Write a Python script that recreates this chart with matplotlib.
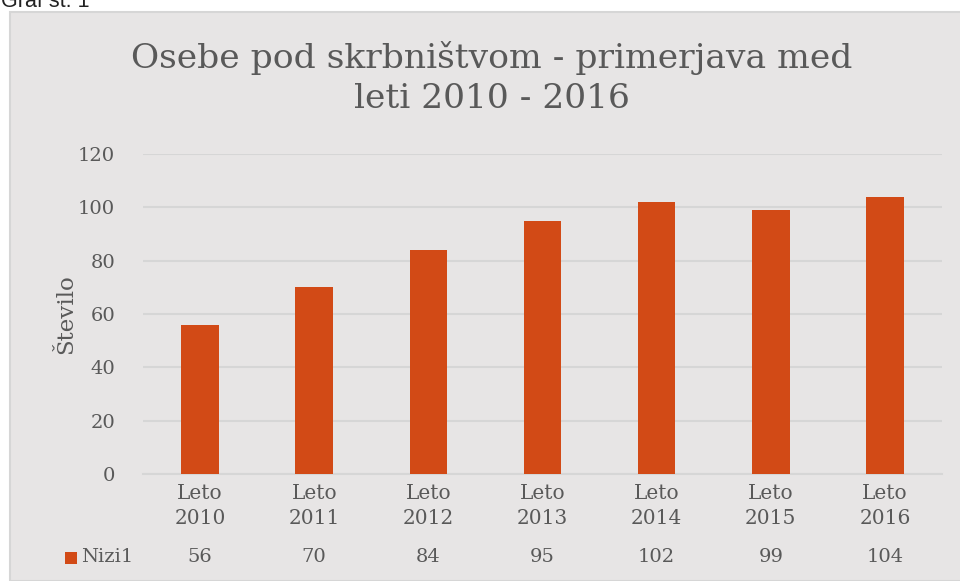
import numpy as np
import matplotlib.pyplot as plt
from matplotlib.patches import Rectangle
from matplotlib.transforms import blended_transform_factory

leta = ['2010', '2011', '2012', '2013', '2014', '2015', '2016']
vrednosti = [56, 70, 84, 95, 102, 99, 104]
yticks = [0, 20, 40, 60, 80, 100, 120]

siva = '#595959'
barva = '#D24A16'
ozadje = '#E7E5E5'
serif = ['DejaVu Serif']

fig = plt.figure(figsize=(9.6, 5.81), dpi=100)
fig.patch.set_facecolor('white')
fig.patches.append(Rectangle((10 / 960, 0), 1, 1 - 12 / 581, transform=fig.transFigure,
                             facecolor=ozadje, edgecolor='#D6D6D6', linewidth=1.5, zorder=-5))
fig.text(1 / 960, 1 + 9 / 581, 'Graf št. 1', fontsize=15.5, color='#222222',
         family='Liberation Sans', va='top', ha='left')

ax = fig.add_axes([143 / 960, 1 - 474 / 581, 799 / 960, 320 / 581])
ax.set_facecolor('none')
x = np.arange(len(leta))
ax.bar(x, vrednosti, width=0.33, color=barva, zorder=3)
ax.set_xlim(-0.5, len(leta) - 0.5)
ax.set_ylim(0, 120)
ax.set_yticks(yticks)
ax.set_yticklabels([str(t) for t in yticks], family=serif, fontsize=14, color=siva)
ax.set_xticks(x)
ax.set_xticklabels(['Leto\n' + l for l in leta], family=serif, fontsize=14.5, color=siva,
                   linespacing=1.45)
ax.tick_params(length=0, pad=20, axis='y')
ax.tick_params(length=0, pad=7, axis='x')
ax.grid(axis='y', color='#D6D6D6', linewidth=1.5, zorder=0)
for s in ['top', 'right', 'left']:
    ax.spines[s].set_visible(False)
ax.spines['bottom'].set_color('#D6D6D6')
ax.spines['bottom'].set_linewidth(1.5)
ax.set_ylabel('Število', family=serif, fontsize=16.5, color=siva, labelpad=1)

tr = blended_transform_factory(ax.transData, fig.transFigure)
yv = 1 - 557 / 581
for xi, v in zip(x, vrednosti):
    ax.text(xi, yv, str(v), transform=tr, ha='center', va='center',
            family=serif, fontsize=14, color=siva)
fig.patches.append(Rectangle((65 / 960, 1 - 564 / 581), 12 / 960, 12 / 581,
                             transform=fig.transFigure, facecolor=barva, zorder=2))
fig.text(81 / 960, yv, 'Nizi1', family=serif, fontsize=14, color=siva, va='center', ha='left')

fig.text(492 / 960, 1 - 78 / 581, 'Osebe pod skrbništvom - primerjava med\nleti 2010 - 2016',
         ha='center', va='center', family=serif, fontsize=24.8, color=siva, linespacing=1.3)

fig.savefig('out.png', dpi=100, facecolor=fig.get_facecolor())
